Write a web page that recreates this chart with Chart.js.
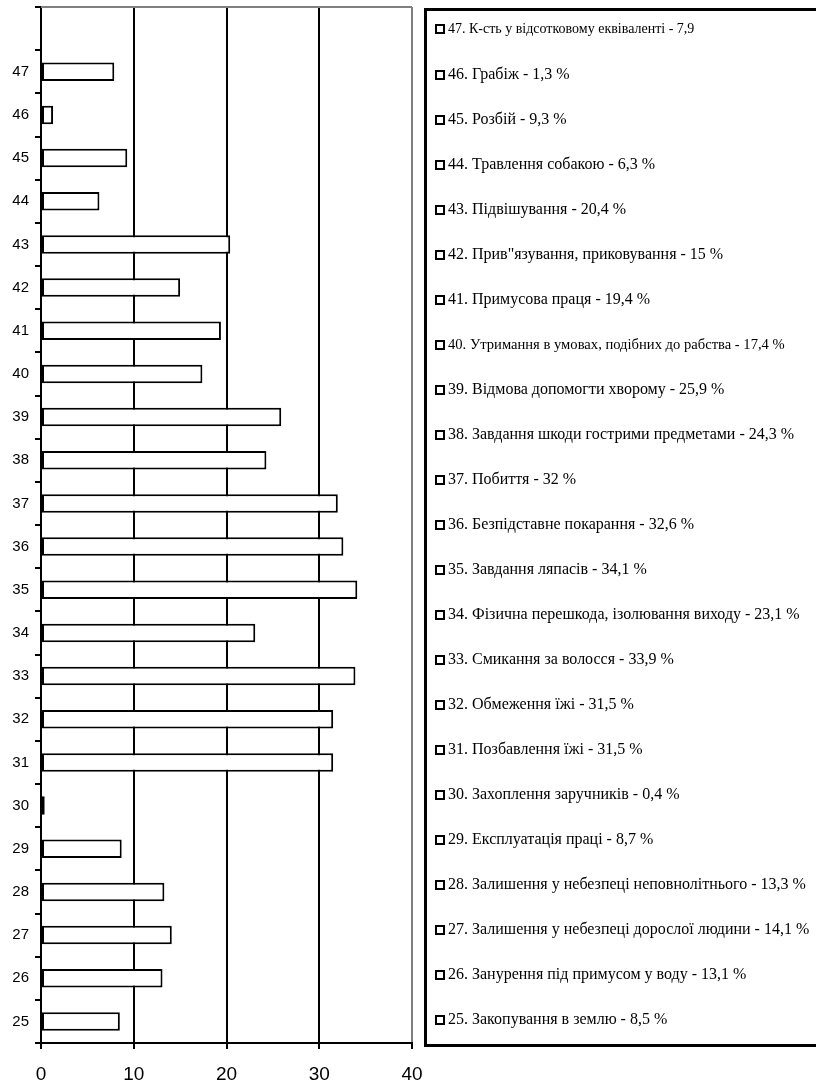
<!DOCTYPE html>
<html>
<head>
<meta charset="utf-8">
<script src="https://cdn.jsdelivr.net/npm/chart.js@4/dist/chart.umd.min.js"></script>
<style>
  html, body { margin: 0; padding: 0; background: #fff; }
  #wrap { position: absolute; left: 0; top: 0; width: 816px; height: 1088px; }
  #legend {
    position: absolute; left: 424px; top: 8px; width: 420px; height: 1039px;
    border: 3px solid #000; box-sizing: border-box;
    font-family: "Liberation Serif", "Times New Roman", serif; font-size: 16px; color: #000;
  }
  #legend .row {
    position: absolute; left: 8px; height: 20px; line-height: 20px; white-space: nowrap;
  }
  #legend .box {
    display: inline-block; width: 10px; height: 10px; box-sizing: border-box;
    border: 2.5px solid #000; background: #fff; margin-right: 3px; vertical-align: -1px;
  }
</style>
</head>
<body>
<div id="wrap"><canvas id="chart"></canvas></div>
<div id="legend"></div>
<script>
// categories, bottom to top
const codes = [25, 26, 27, 28, 29, 30, 31, 32, 33, 34, 35, 36, 37, 38, 39, 40, 41, 42, 43, 44, 45, 46, 47];
const names = [
  "Закопування в землю",
  "Занурення під примусом у воду",
  "Залишення у небезпеці дорослої людини",
  "Залишення у небезпеці неповнолітнього",
  "Експлуатація праці",
  "Захоплення заручників",
  "Позбавлення їжі",
  "Обмеження їжі",
  "Смикання за волосся",
  "Фізична перешкода, ізолювання виходу",
  "Завдання ляпасів",
  "Безпідставне покарання",
  "Побиття",
  "Завдання шкоди гострими предметами",
  "Відмова допомогти хворому",
  "Утримання в умовах, подібних до рабства",
  "Примусова праця",
  "Прив\"язування, приковування",
  "Підвішування",
  "Травлення собакою",
  "Розбій",
  "Грабіж",
  "К-сть у відсотковому еквіваленті"
];
const values = [8.5, 13.1, 14.1, 13.3, 8.7, 0.4, 31.5, 31.5, 33.9, 23.1, 34.1, 32.6, 32, 24.3, 25.9, 17.4, 19.4, 15, 20.4, 6.3, 9.3, 1.3, 7.9];
const xTicks = [0, 10, 20, 30, 40];

// top to bottom for the chart, with one empty slot above 47
const labels = [''].concat(codes.slice().reverse().map(String));
const data = [null].concat(values.slice().reverse());

const topBorder = {
  id: 'topBorder',
  afterDraw(chart) {
    const { ctx, chartArea } = chart;
    ctx.save();
    ctx.strokeStyle = '#808080';
    ctx.lineWidth = 2;
    ctx.beginPath();
    ctx.moveTo(chartArea.left, chartArea.top);
    ctx.lineTo(chartArea.right, chartArea.top);
    ctx.stroke();
    ctx.restore();
  }
};

new Chart(document.getElementById('chart'), {
  type: 'bar',
  data: {
    labels: labels,
    datasets: [{
      data: data,
      backgroundColor: '#fff',
      borderColor: '#000',
      borderWidth: 2,
      borderSkipped: false,
      barPercentage: 0.43,
      categoryPercentage: 1
    }]
  },
  options: {
    indexAxis: 'y',
    responsive: true,
    maintainAspectRatio: false,
    animation: false,
    layout: { padding: { top: 7, right: 404, left: 0, bottom: 0 } },
    plugins: { legend: { display: false }, tooltip: { enabled: false } },
    scales: {
      y: {
        type: 'category',
        grid: { offset: true, drawOnChartArea: false, drawTicks: true, tickLength: 6, color: '#000', lineWidth: 2 },
        border: { color: '#000', width: 2 },
        ticks: { color: '#000', padding: 6, font: { family: 'Liberation Sans', size: 15 } },
        afterFit(s) { s.width = 41; s.paddingTop = 0; s.paddingBottom = 0; }
      },
      x: {
        min: xTicks[0],
        max: xTicks[xTicks.length - 1],
        afterBuildTicks(s) { s.ticks = xTicks.map(v => ({ value: v })); },
        grid: {
          color: c => (c.tick && c.tick.value === 40 ? '#808080' : '#000'),
          lineWidth: 2, drawTicks: true, tickLength: 6, tickColor: '#000'
        },
        border: { color: '#000', width: 2 },
        ticks: { color: '#000', padding: 14, font: { family: 'Liberation Sans', size: 19 } },
        afterFit(s) { s.height = 45; }
      }
    }
  },
  plugins: [topBorder]
});

// legend, top to bottom (47 ... 25); two long rows are set smaller, as in the source
const legend = document.getElementById('legend');
const rowGap = 45;
codes.slice().reverse().forEach((code, i) => {
  const k = codes.length - 1 - i;
  const v = String(values[k]).replace('.', ',');
  const unit = code === 47 ? '' : ' %';
  const row = document.createElement('div');
  row.className = 'row';
  row.style.top = (8 + i * rowGap) + 'px';
  if (code === 47) row.style.fontSize = '14px';
  if (code === 40) row.style.fontSize = '14.6px';
  row.innerHTML = '<span class="box"></span>' + code + '. ' + names[k] + ' - ' + v + unit;
  legend.appendChild(row);
});
</script>
</body>
</html>
